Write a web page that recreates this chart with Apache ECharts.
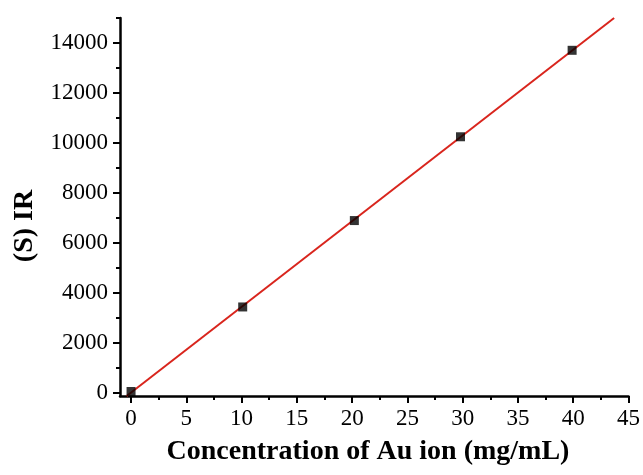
<!DOCTYPE html>
<html>
<head>
<meta charset="utf-8">
<script src="https://cdn.jsdelivr.net/npm/echarts@6/dist/echarts.min.js"></script>
<style>html,body{margin:0;padding:0;background:#fff}#c{width:643px;height:475px}</style>
</head>
<body>
<div id="c"></div>
<script>
// Data
const concentration = [0, 10.1, 20.2, 29.8, 39.9];
const irValues = [50, 3434, 6892, 10246, 13707];
// Fitted line endpoints as drawn in the picture
const fitX = [-0.4, 43.7];
const fitY = [-133, 15000];
// Tick labels
const xMajorTicks = [0, 5, 10, 15, 20, 25, 30, 35, 40, 45];
const xMinorTicks = [2.5, 7.5, 12.5, 17.5, 22.5, 27.5, 32.5, 37.5, 42.5];
const yMajorTicks = [0, 2000, 4000, 6000, 8000, 10000, 12000, 14000];
const yMinorTicks = [1000, 3000, 5000, 7000, 9000, 11000, 13000, 15000];

const FONT = 'Liberation Serif';
const chart = echarts.init(document.getElementById('c'), null, {renderer: 'canvas'});
const xRange = {min: -1, max: 45};
const yRange = {min: -130, max: 15000};
const plain = v => String(v);

chart.setOption({
  animation: false,
  backgroundColor: '#fff',
  grid: {left: 120, right: 14, top: 18, bottom: 79},
  xAxis: [{
    type: 'value', ...xRange,
    axisLine: {show: true, onZero: false, lineStyle: {color: '#000', width: 2.5}},
    axisTick: {show: true, customValues: xMajorTicks, length: 7, lineStyle: {color: '#000', width: 2}},
    axisLabel: {customValues: xMajorTicks, formatter: plain, color: '#000', fontFamily: FONT, fontSize: 23, margin: 11},
    splitLine: {show: false}
  }, {
    type: 'value', ...xRange, position: 'bottom',
    axisLine: {show: false, onZero: false},
    axisTick: {show: true, customValues: xMinorTicks, length: 4, lineStyle: {color: '#000', width: 2}},
    axisLabel: {show: false},
    splitLine: {show: false}
  }],
  yAxis: [{
    type: 'value', ...yRange,
    axisLine: {show: true, onZero: false, lineStyle: {color: '#000', width: 2.5}},
    axisTick: {show: true, customValues: yMajorTicks, length: 7, lineStyle: {color: '#000', width: 2}},
    axisLabel: {customValues: yMajorTicks, formatter: plain, color: '#000', fontFamily: FONT, fontSize: 23, margin: 12},
    splitLine: {show: false}
  }, {
    type: 'value', ...yRange, position: 'left',
    axisLine: {show: false, onZero: false},
    axisTick: {show: true, customValues: yMinorTicks, length: 4, lineStyle: {color: '#000', width: 2}},
    axisLabel: {show: false},
    splitLine: {show: false}
  }],
  series: [{
    type: 'line',
    data: fitX.map((x, i) => [x, fitY[i]]),
    showSymbol: false,
    symbol: 'none',
    clip: true,
    lineStyle: {color: '#d9251d', width: 2},
    z: 2
  }, {
    type: 'scatter',
    data: concentration.map((x, i) => [x, irValues[i]]),
    symbol: 'rect',
    symbolSize: 9,
    itemStyle: {color: '#000'},
    clip: false,
    z: 3
  }],
  graphic: [{
    type: 'text',
    x: 368, y: 452,
    style: {text: 'Concentration of Au ion (mg/mL)', font: 'bold 28px "Liberation Serif"', fill: '#000', align: 'center', verticalAlign: 'middle'}
  }, {
    type: 'text',
    x: 25, y: 226,
    rotation: Math.PI / 2,
    style: {text: '(S) IR', font: 'bold 28px "Liberation Serif"', fill: '#000', align: 'center', verticalAlign: 'middle'}
  }]
});
</script>
</body>
</html>
